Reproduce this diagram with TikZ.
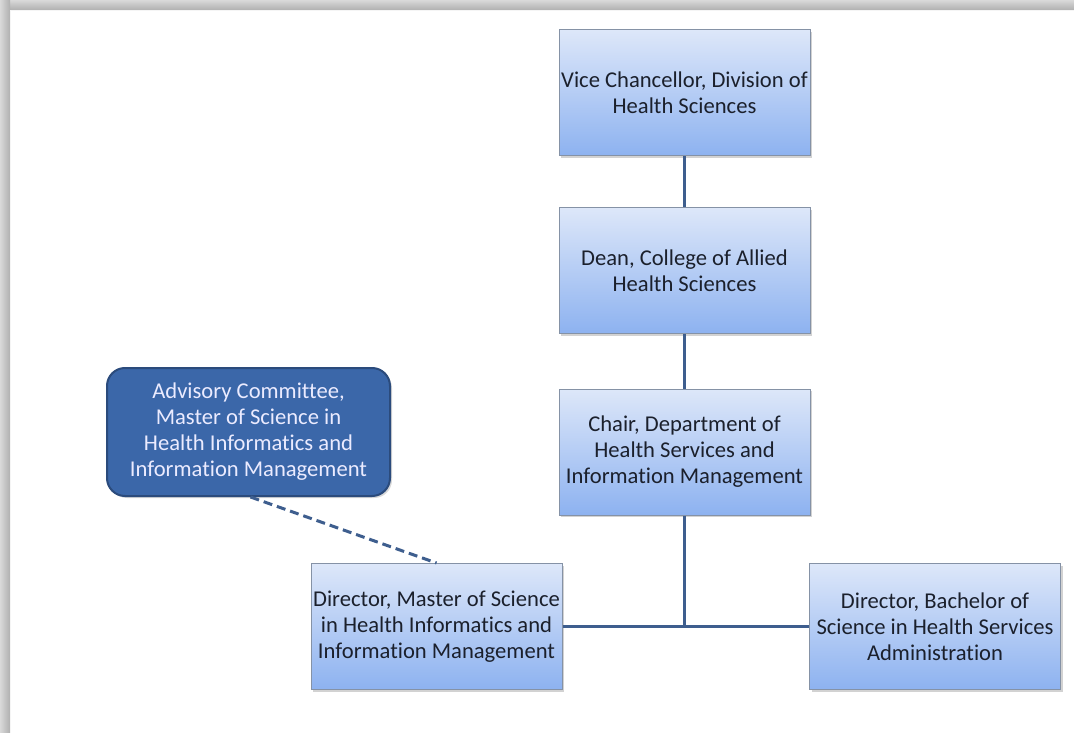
\documentclass[tikz,border=0pt]{standalone}
\usepackage{fontspec}
\setmainfont{Carlito}[Ligatures=NoCommon]
\usetikzlibrary{shadows}
\definecolor{boxtop}{HTML}{DDE7F9}
\definecolor{boxbot}{HTML}{8DB2F0}
\definecolor{boxline}{HTML}{8592A6}
\definecolor{conn}{HTML}{3E5E8E}
\definecolor{advfill}{HTML}{3B67A9}
\definecolor{advline}{HTML}{2B4B7C}
\definecolor{txt}{HTML}{1B202C}
\begin{document}
\begin{tikzpicture}[x=1pt,y=-1pt,
  orgbox/.style={draw=boxline, line width=1pt, top color=boxtop, bottom color=boxbot,
    minimum width=251pt, minimum height=126pt, inner sep=0pt, align=center,
    font=\fontsize{22.6}{26}\selectfont, text=txt,
    drop shadow={shadow xshift=2pt, shadow yshift=-2pt, opacity=0.35}},
  advbox/.style={draw=advline, line width=2pt, fill=advfill, rounded corners=18pt,
    minimum width=283pt, minimum height=128pt, inner sep=0pt, align=center,
    font=\fontsize{22.6}{26}\selectfont, text=white!92!blue,
    drop shadow={shadow xshift=2pt, shadow yshift=-2pt, opacity=0.3}},
  link/.style={draw=conn, line width=3pt},
  dlink/.style={draw=conn, line width=3pt, dash pattern=on 9pt off 5pt}]
\useasboundingbox (0,0) rectangle (1074,733);
\fill[white] (0,0) rectangle (1074,733);
\shade[top color=gray!30, bottom color=gray!62] (0,0) rectangle (1074,10);
\shade[left color=gray!30, right color=gray!62] (0,0) rectangle (10,733);
\draw[white!92!gray, line width=1pt] (10,733) -- (10,10.5) -- (1074,10.5);

\node[orgbox] (vc) at (684.5,93) {Vice Chancellor, Division of\\Health Sciences};
\node[orgbox] (dean) at (684.5,270.5) {Dean, College of Allied\\Health Sciences};
\node[orgbox] (chair) at (684.5,452) {Chair, Department of\\Health Services and\\Information Management};
\node[orgbox] (ms) at (436.5,626.5) {Director, Master of Science\\in Health Informatics and\\Information Management};
\node[orgbox] (bs) at (935,626.5) {Director, Bachelor of\\Science in Health Services\\Administration};
\node[advbox] (adv) at (248.5,432) {Advisory Committee,\\Master of Science in\\Health Informatics and\\Information Management};

\coordinate (hub) at (chair.south |- ms.east);
\draw[link] (vc.south) -- (dean.north);
\draw[link] (dean.south) -- (chair.north);
\draw[link] (chair.south) -- (hub);
\draw[link] (ms.east) -- (bs.west);
\draw[dlink] ([xshift=2pt]adv.south) -- (ms.north);
\end{tikzpicture}
\end{document}
